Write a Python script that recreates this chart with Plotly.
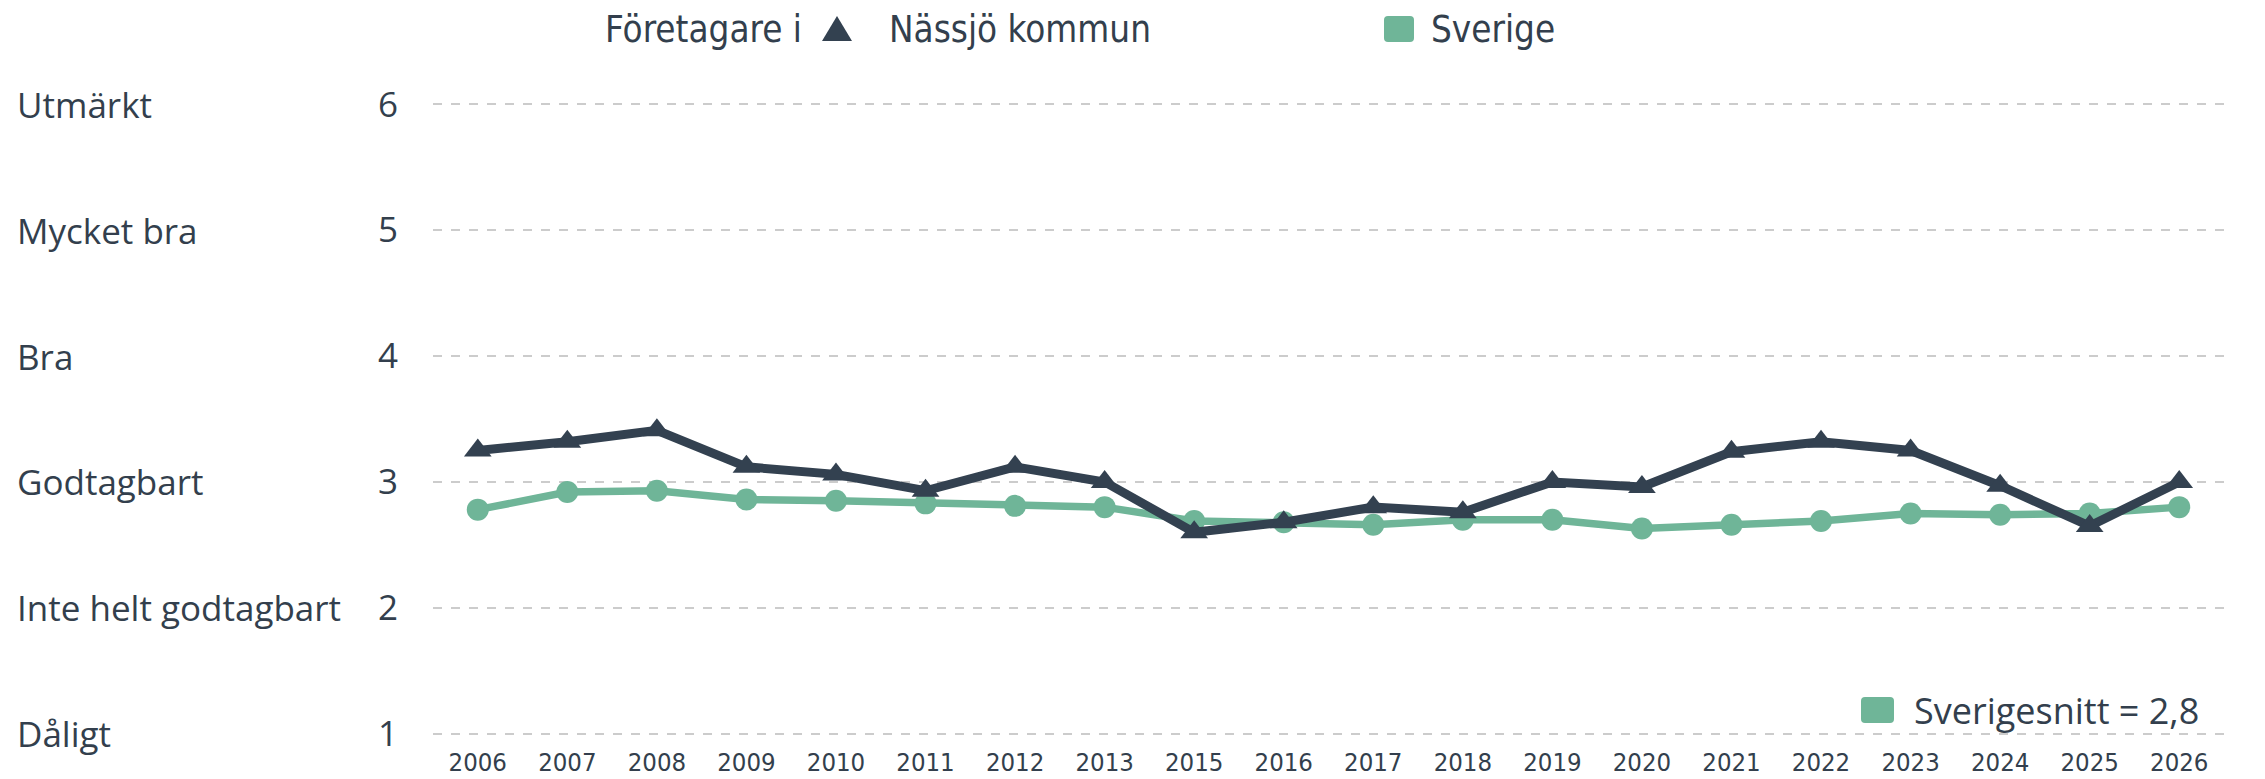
import plotly.graph_objects as go

years = ["2006", "2007", "2008", "2009", "2010", "2011", "2012", "2013", "2015", "2016",
         "2017", "2018", "2019", "2020", "2021", "2022", "2023", "2024", "2025", "2026"]
nassjo = [3.25, 3.32, 3.41, 3.12, 3.06, 2.93, 3.12, 3.00, 2.60, 2.68,
          2.80, 2.76, 3.00, 2.96, 3.24, 3.32, 3.25, 2.97, 2.65, 3.00]
sverige = [2.78, 2.92, 2.93, 2.86, 2.85, 2.83, 2.81, 2.80, 2.69, 2.68,
           2.66, 2.70, 2.70, 2.63, 2.66, 2.69, 2.75, 2.74, 2.75, 2.80]
rating_values = [1, 2, 3, 4, 5, 6]
rating_labels = ["Dåligt", "Inte helt godtagbart", "Godtagbart", "Bra", "Mycket bra", "Utmärkt"]

DARK = "#334150"
GREEN = "#6fb598"
TEXT = "#333f4d"
WIDE = "Open Sans, DejaVu Sans, sans-serif"
NARROW = "DejaVu Sans Condensed, Liberation Sans Narrow, Liberation Sans, sans-serif"

W, H = 2265, 779
L, R, T, B = 425, 49, 95, 52
PW, PH = W - L - R, H - T - B


def px(x):
    return (x - L) / PW


def py(y):
    return (H - B - y) / PH


def rounded_rect(x0, y0, x1, y1, r):
    X = lambda v: px(v)
    Y = lambda v: py(v)
    return (f"M {X(x0 + r)},{Y(y0)} L {X(x1 - r)},{Y(y0)} Q {X(x1)},{Y(y0)} {X(x1)},{Y(y0 + r)} "
            f"L {X(x1)},{Y(y1 - r)} Q {X(x1)},{Y(y1)} {X(x1 - r)},{Y(y1)} "
            f"L {X(x0 + r)},{Y(y1)} Q {X(x0)},{Y(y1)} {X(x0)},{Y(y1 - r)} "
            f"L {X(x0)},{Y(y0 + r)} Q {X(x0)},{Y(y0)} {X(x0 + r)},{Y(y0)} Z")


fig = go.Figure()
fig.add_trace(go.Scatter(
    x=years, y=sverige, mode="lines+markers", name="Sverige",
    line=dict(color=GREEN, width=7.5), marker=dict(symbol="circle", size=22, color=GREEN),
    showlegend=False))
fig.add_trace(go.Scatter(
    x=years, y=nassjo, mode="lines+markers", name="Nässjö kommun",
    line=dict(color=DARK, width=9), marker=dict(symbol="triangle-up", size=24, color=DARK),
    showlegend=False))

annotations = []
for v, lab in zip(rating_values, rating_labels):
    annotations.append(dict(x=px(7), y=v, xref="paper", yref="y", text=lab, showarrow=False,
                            xanchor="left", yanchor="middle",
                            font=dict(family=WIDE, size=35, color=TEXT)))

last_label = f"{nassjo[-1]:.1f}".replace(".", ",")
annotations.append(dict(x=years[-1], y=nassjo[-1], xref="x", yref="y", text=last_label,
                        showarrow=False, xanchor="left", yanchor="middle", xshift=22,
                        font=dict(family=WIDE, size=38, color=TEXT)))

# top legend
LEG_Y = 21
annotations.append(dict(x=px(595), y=py(LEG_Y), xref="paper", yref="paper", text="Företagare i",
                        showarrow=False, xanchor="left", yanchor="middle",
                        font=dict(family=NARROW, size=36.5, color=TEXT)))
annotations.append(dict(x=px(879), y=py(LEG_Y), xref="paper", yref="paper", text="Nässjö kommun",
                        showarrow=False, xanchor="left", yanchor="middle",
                        font=dict(family=NARROW, size=36.5, color=TEXT)))
annotations.append(dict(x=px(1421), y=py(LEG_Y), xref="paper", yref="paper", text="Sverige",
                        showarrow=False, xanchor="left", yanchor="middle",
                        font=dict(family=NARROW, size=36.5, color=TEXT)))
# bottom-right legend
snitt = f"Sverigesnitt = {sverige[-1]:.1f}".replace(".", ",")
annotations.append(dict(x=px(1904), y=py(702), xref="paper", yref="paper", text=snitt,
                        showarrow=False, xanchor="left", yanchor="middle",
                        font=dict(family=WIDE, size=36, color=TEXT)))

shapes = [
    dict(type="path", xref="paper", yref="paper", line=dict(width=0), fillcolor=DARK,
         path=f"M {px(814)},{py(LEG_Y + 12)} L {px(844)},{py(LEG_Y + 12)} L {px(829)},{py(LEG_Y - 13)} Z"),
    dict(type="path", xref="paper", yref="paper", line=dict(width=0), fillcolor=GREEN,
         path=rounded_rect(1376, LEG_Y - 13, 1406, LEG_Y + 13, 4)),
    dict(type="path", xref="paper", yref="paper", line=dict(width=0), fillcolor=GREEN,
         path=rounded_rect(1853, 689, 1886, 715, 4)),
]

fig.update_layout(
    width=W, height=H,
    margin=dict(l=L, r=R, t=T, b=B, autoexpand=False),
    paper_bgcolor="white", plot_bgcolor="white",
    annotations=annotations, shapes=shapes,
    xaxis=dict(type="category", categoryorder="array", categoryarray=years,
               range=[-0.5, len(years) - 0.5], showgrid=False, zeroline=False, showline=False,
               ticks="", ticklabelstandoff=9, tickfont=dict(family=NARROW, size=25.5, color=TEXT)),
    yaxis=dict(range=[0.99, 6.01], tickvals=rating_values, ticktext=[str(v) for v in rating_values],
               showgrid=True, gridcolor="#cccccc", griddash="dash", gridwidth=1.5,
               zeroline=False, showline=False, ticks="", ticklabelstandoff=34,
               tickfont=dict(family=WIDE, size=35, color=TEXT)),
)

fig.write_html("out.html")
